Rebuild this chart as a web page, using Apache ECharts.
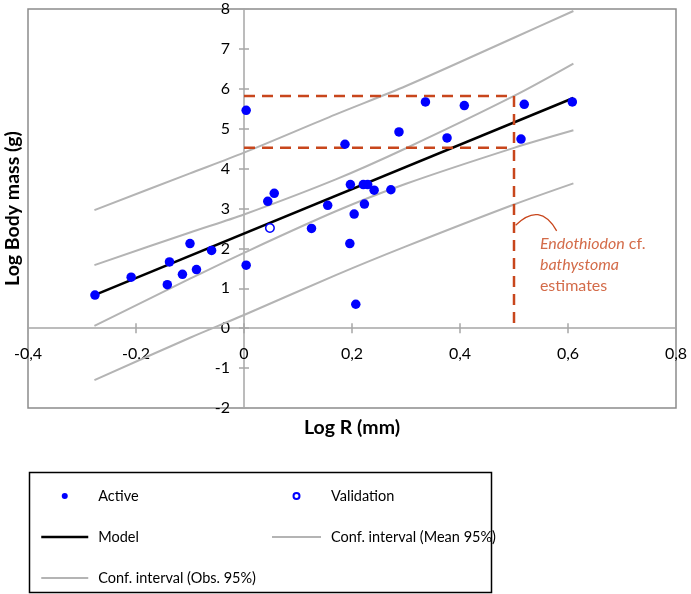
<!DOCTYPE html>
<html><head><meta charset="utf-8">
<script src="https://cdn.jsdelivr.net/npm/echarts@6/dist/echarts.min.js"></script>
<style>html,body{margin:0;padding:0;background:#fff}#c{width:691px;height:594px}</style>
</head><body><div id="c"></div>
<script>
// ---- data ----
const activePoints = [
  [-0.276,0.83],[-0.209,1.28],[-0.142,1.09],[-0.138,1.66],[-0.114,1.35],
  [-0.100,2.12],[-0.088,1.47],[-0.060,1.95],[0.004,1.58],[0.004,5.46],
  [0.044,3.18],[0.056,3.38],[0.125,2.50],[0.155,3.08],[0.187,4.61],
  [0.197,3.60],[0.196,2.12],[0.204,2.86],[0.207,0.60],[0.221,3.60],
  [0.229,3.60],[0.223,3.11],[0.241,3.46],[0.272,3.47],[0.287,4.92],
  [0.336,5.67],[0.376,4.77],[0.408,5.58],[0.513,4.74],[0.519,5.61],
  [0.608,5.67]
];
const validationPoints = [[0.048,2.51]];
const modelX = [-0.277, 0.61];
const modelY = [0.83, 5.77];
const ciX = [-0.277,-0.1,0,0.17,0.3,0.5,0.61];
const meanUpper = [1.58,2.40,2.85,3.73,4.51,5.82,6.63];
const meanLower = [0.06,1.24,1.89,2.93,3.62,4.52,4.96];
const obsUpper = [2.96,3.88,4.40,5.36,6.07,7.28,7.95];
const obsLower = [-1.30,-0.24,0.33,1.33,2.05,3.10,3.63];
const estimateX = 0.5;
const estimateLow = 4.52;
const estimateHigh = 5.82;
const xTickLabels = ['-0,4','-0,2','0','0,2','0,4','0,6','0,8'];
const yTickLabels = ['-2','-1','0','1','2','3','4','5','6','7','8'];
const xMin = -0.4, xMax = 0.8, xStep = 0.2;
const yMin = -2, yMax = 8, yStep = 1;

const zip = (xs, ys) => xs.map((x, i) => [x, ys[i]]);
const FONT = 'Lato';
const RED = '#c8461c';
const AXIS = '#a6a6a6';
const CI = '#b4b4b4';

// layout of the plot area
const W = 691, H = 594;
const G = { left: 28, top: 9, right: 15, bottom: 186 };
const plotW = W - G.left - G.right, plotH = H - G.top - G.bottom;
// distance of the zero lines from each grid edge (axes cross at 0,0)
const zeroFromBottom = plotH * (0 - yMin) / (yMax - yMin);
const zeroFromTop = plotH - zeroFromBottom;
const zeroFromLeft = plotW * (0 - xMin) / (xMax - xMin);
const zeroFromRight = plotW - zeroFromLeft;

const chart = echarts.init(document.getElementById('c'));
const xFmt = v => xTickLabels[Math.round((v - xMin) / xStep)];
const yFmt = v => yTickLabels[Math.round((v - yMin) / yStep)];

const lineSt = { color: AXIS, width: 1.5 };
const baseX = {
  type: 'value', min: xMin, max: xMax, interval: xStep,
  splitLine: { show: false },
  axisTick: { show: true, length: 5, lineStyle: lineSt }
};
const baseY = {
  type: 'value', min: yMin, max: yMax, interval: yStep,
  splitLine: { show: false },
  axisTick: { show: true, length: 5, lineStyle: lineSt }
};

const legendText = { fontFamily: FONT, fontSize: 14.5, color: '#000', lineHeight: 20, padding: [0,0,0,5] };
const hideSym = { opacity: 0 };

chart.setOption({
  animation: false,
  backgroundColor: '#fff',
  grid: { left: G.left, top: G.top, right: G.right, bottom: G.bottom, outerBoundsMode: 'none', containLabel: false,
    show: true, borderColor: '#8c8c8c', borderWidth: 1.5, backgroundColor: 'transparent' },
  xAxis: [
    Object.assign({}, baseX, {
      position: 'bottom', offset: -zeroFromBottom,
      axisLine: { show: true, onZero: false, lineStyle: lineSt },
      name: 'Log R (mm)', nameLocation: 'middle', nameGap: 90, nameMoveOverlap: false,
      nameTextStyle: { fontFamily: FONT, fontWeight: 'bold', fontSize: 19.5, color: '#000', verticalAlign: 'top' },
      axisLabel: { formatter: xFmt, fontFamily: FONT, fontSize: 16, color: '#000', margin: 18, showMinLabel: true, showMaxLabel: true }
    }),
    Object.assign({}, baseX, { position: 'top', offset: -zeroFromTop,
      axisLine: { show: false, onZero: false }, axisLabel: { show: false } })
  ],
  yAxis: [
    Object.assign({}, baseY, {
      position: 'left', offset: -zeroFromLeft,
      axisLine: { show: true, onZero: false, lineStyle: lineSt },
      axisLabel: { formatter: yFmt, fontFamily: FONT, fontSize: 16, color: '#000', margin: 14 }
    }),
    Object.assign({}, baseY, { position: 'right', offset: -zeroFromRight,
      axisLine: { show: false, onZero: false }, axisLabel: { show: false } })
  ],
  legend: [
    { orient: 'vertical', left: 35, top: 481, itemWidth: 47, itemHeight: 6, itemGap: 21,
      textStyle: legendText, selectedMode: false,
      data: ['Active',
        { name: 'Model', itemStyle: hideSym, lineStyle: { width: 2.5 } },
        { name: 'Conf. interval (Obs. 95%)', itemStyle: hideSym, lineStyle: { width: 2 } }] },
    { orient: 'vertical', left: 266, top: 481, itemWidth: 49, itemHeight: 6, itemGap: 21,
      textStyle: legendText, selectedMode: false,
      data: ['Validation',
        { name: 'Conf. interval (Mean 95%)', itemStyle: hideSym, lineStyle: { width: 2 } }] }
  ],
  graphic: [
    { type: 'rect', left: 27, top: 470, shape: { width: 462, height: 120 },
      style: { fill: 'none', stroke: '#000', lineWidth: 1.5 }, silent: true },
    { type: 'text', x: 13, y: G.top + plotH / 2, rotation: Math.PI / 2, silent: true,
      style: { text: 'Log Body mass (g)', fontFamily: FONT, fontWeight: 'bold', fontSize: 19.5, fill: '#000',
        align: 'center', verticalAlign: 'middle' } }
  ],
  series: [
    { name: 'Conf. interval (Obs. 95%)', type: 'line', data: zip(ciX, obsUpper), showSymbol: false, symbol: 'none', smooth: 0.3,
      lineStyle: { color: CI, width: 2 }, itemStyle: { color: CI }, z: 2 },
    { name: 'Conf. interval (Obs. 95%)', type: 'line', data: zip(ciX, obsLower), showSymbol: false, symbol: 'none', smooth: 0.3,
      lineStyle: { color: CI, width: 2 }, itemStyle: { color: CI }, z: 2 },
    { name: 'Conf. interval (Mean 95%)', type: 'line', data: zip(ciX, meanUpper), showSymbol: false, symbol: 'none', smooth: 0.3,
      lineStyle: { color: CI, width: 2 }, itemStyle: { color: CI }, z: 2 },
    { name: 'Conf. interval (Mean 95%)', type: 'line', data: zip(ciX, meanLower), showSymbol: false, symbol: 'none', smooth: 0.3,
      lineStyle: { color: CI, width: 2 }, itemStyle: { color: CI }, z: 2 },
    { name: 'Model', type: 'line', data: zip(modelX, modelY), showSymbol: false, symbol: 'none',
      lineStyle: { color: '#000', width: 2.5 }, itemStyle: { color: '#000' }, z: 3 },
    { name: 'estimate-box', type: 'line', data: [[0, estimateHigh], [estimateX, estimateHigh], [estimateX, 0]], showSymbol: false, symbol: 'none',
      lineStyle: { color: RED, width: 2.5, type: [11, 7] }, z: 4, silent: true },
    { name: 'estimate-low', type: 'line', data: [[0, estimateLow], [estimateX, estimateLow]], showSymbol: false, symbol: 'none',
      lineStyle: { color: RED, width: 2.5, type: [11, 7] }, z: 4, silent: true },
    { name: 'pointer', type: 'lines', coordinateSystem: 'cartesian2d', silent: true, z: 4,
      lineStyle: { color: RED, width: 1.3, curveness: 0.65, opacity: 1 },
      data: [{ coords: [[0.503, 2.58], [0.579, 2.44]] }] },
    { name: 'annotation', type: 'scatter', symbolSize: 0, silent: true, z: 5,
      data: [[0.548, 1.60]],
      label: { show: true, position: 'right', distance: 0,
        formatter: '{i|Endothiodon} cf.\n{i|bathystoma}\nestimates',
        fontFamily: FONT, fontSize: 16, color: RED, lineHeight: 21,
        rich: { i: { fontStyle: 'italic', fontFamily: FONT, fontSize: 16, color: RED, lineHeight: 21 } } } },
    { name: 'Active', type: 'scatter', data: activePoints, symbol: 'circle', symbolSize: 9.5,
      itemStyle: { color: '#0000ff', opacity: 1 }, z: 6 },
    { name: 'Validation', type: 'scatter', data: validationPoints, symbol: 'circle', symbolSize: 8.5,
      itemStyle: { color: '#fff', borderColor: '#0000ff', borderWidth: 1.5, opacity: 1 }, z: 6 }
  ]
});
</script></body></html>
